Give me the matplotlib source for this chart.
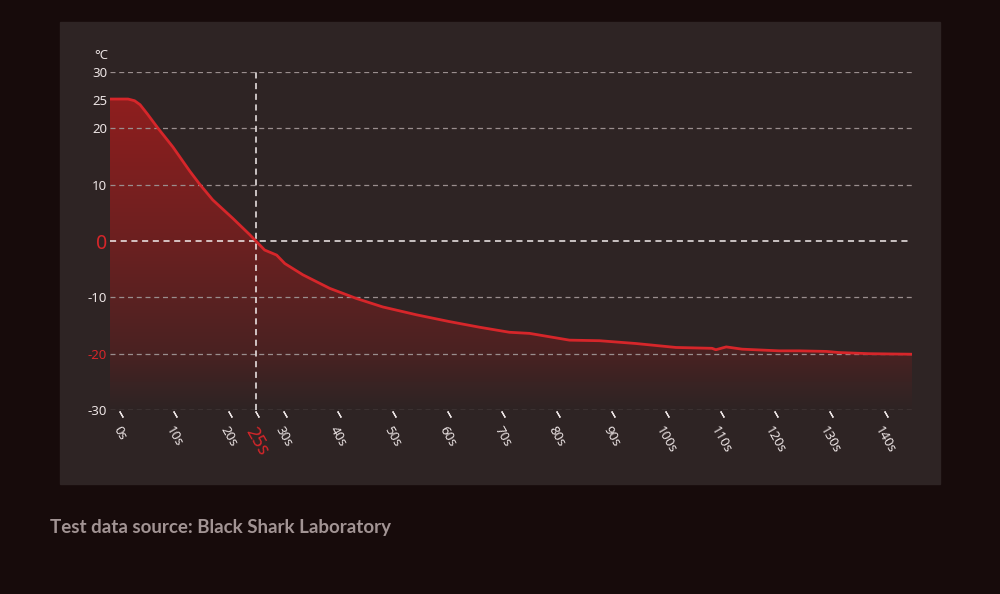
import numpy as np
import matplotlib.pyplot as plt
from matplotlib.colors import LinearSegmentedColormap
from matplotlib.patches import Rectangle
from matplotlib import transforms

# temperature curve (seconds, degrees C)
time_s = [-1.8, 1.5, 2.7, 3.7, 5.0, 7.0, 9.7, 12.8, 14.6, 17.0, 20.7, 23.8,
          24.9, 26.5, 28.7, 30.2, 33.5, 38.4, 43.3, 48.1, 54.3, 60.3, 65.8,
          71.3, 75.0, 82.3, 87.8, 94.5, 101.8, 108.4, 109.1, 111.0, 113.9,
          120.7, 124.3, 129.3, 131.6, 137.1, 145.0]
temp_c = [25.2, 25.2, 24.9, 24.2, 22.6, 20.0, 16.7, 12.4, 10.1, 7.3, 4.0, 1.1,
          0.0, -1.6, -2.5, -4.0, -6.0, -8.4, -10.2, -11.7, -13.1, -14.3, -15.3,
          -16.2, -16.4, -17.6, -17.7, -18.2, -18.9, -19.05, -19.3, -18.8, -19.2,
          -19.5, -19.5, -19.6, -19.8, -20.0, -20.1]

y_ticks = [30, 25, 20, 10, 0, -10, -20, -30]
y_grid = [30, 20, 10, -10, -20, -30]
x_ticks = [0, 10, 20, 25, 30, 40, 50, 60, 70, 80, 90, 100, 110, 120, 130, 140]
mark_time = 25

BG = '#170b0b'
PANEL = '#2e2424'
RED = '#d6262a'
TXT = '#ece4e4'

fig = plt.figure(figsize=(10, 5.94), dpi=100, facecolor=BG)
fig.patches.append(Rectangle((0.06, 1 - 484 / 594), 0.88, 462 / 594,
                             transform=fig.transFigure, color=PANEL, zorder=-10))

ax = fig.add_axes([0.11, 184 / 594, 0.802, 338 / 594])
ax.set_facecolor('none')
ax.set_xlim(time_s[0], time_s[-1])
ax.set_ylim(-30, 30)
for s in ax.spines.values():
    s.set_visible(False)

# gradient fill under the curve
cmap = LinearSegmentedColormap.from_list('fade', [
    (0.0, PANEL), (0.08, '#3a2323'), (0.17, '#4a2222'),
    (0.5, '#6c2020'), (0.92, '#8e1e1e'), (1.0, '#961e1e')])
grad = np.linspace(0, 1, 256).reshape(-1, 1)
img = ax.imshow(grad, extent=[time_s[0], time_s[-1], -30, 30], aspect='auto',
                cmap=cmap, origin='lower', zorder=1)
poly = ax.fill_between(time_s, temp_c, -30, color='none', lw=0)
img.set_clip_path(poly.get_paths()[0], transform=ax.transData)

# grid
for g in y_grid:
    ax.axhline(g, color='#9a8e8e', lw=0.9, ls=(0, (4, 3)), zorder=2)
ax.axhline(0, color='#f4eeee', lw=1.1, ls=(0, (4, 3)), zorder=2)
ax.axvline(mark_time, color='#f4eeee', lw=1.1, ls=(0, (4, 3)), zorder=2)

ax.plot(time_s, temp_c, color=RED, lw=2, zorder=3, solid_joinstyle='round')

# y labels
ax.set_yticks(y_ticks)
ax.set_yticklabels([str(v) for v in y_ticks])
ax.tick_params(axis='y', length=0, pad=2)
for v, lab in zip(y_ticks, ax.get_yticklabels()):
    lab.set_fontfamily('Noto Sans')
    lab.set_fontsize(9.5)
    lab.set_color(TXT)
    if v == 0:
        lab.set_color(RED)
        lab.set_fontsize(14)
        lab.set_fontweight('medium')
    elif v == -20:
        lab.set_color(RED)
ax.text(-0.002, 1.05, '°C', transform=ax.transAxes, ha='right', va='center',
        color=TXT, fontsize=9.5, family='Noto Sans')

# x labels, centred under the tick and slanted
ax.set_xticks([])
lab_tr = transforms.offset_copy(ax.get_xaxis_transform(), fig=fig, x=0, y=-14, units='dots')
for v in x_ticks:
    big = v == mark_time
    ax.text(v, 0, f'{v}s', transform=lab_tr, rotation=-60, ha='center', va='top',
            color=RED if big else TXT, fontsize=13 if big else 9.5,
            fontweight='semibold' if big else 'normal',
            family='Noto Sans', clip_on=False)

# slanted tick marks
off = transforms.offset_copy(ax.transData, fig=fig, x=1, y=-4, units='dots')
ax.plot(x_ticks, [-30] * len(x_ticks), ls='none', marker=(2, 2, 30),
        ms=5, mew=0.9, color=TXT, transform=off, clip_on=False)

fig.text(0.05, 1 - 527 / 594, 'Test data source: Black Shark Laboratory',
         color='#a29494', fontsize=13.5, fontweight='bold', family='Lato',
         ha='left', va='center')

fig.savefig('out.png', dpi=100, facecolor=BG)
